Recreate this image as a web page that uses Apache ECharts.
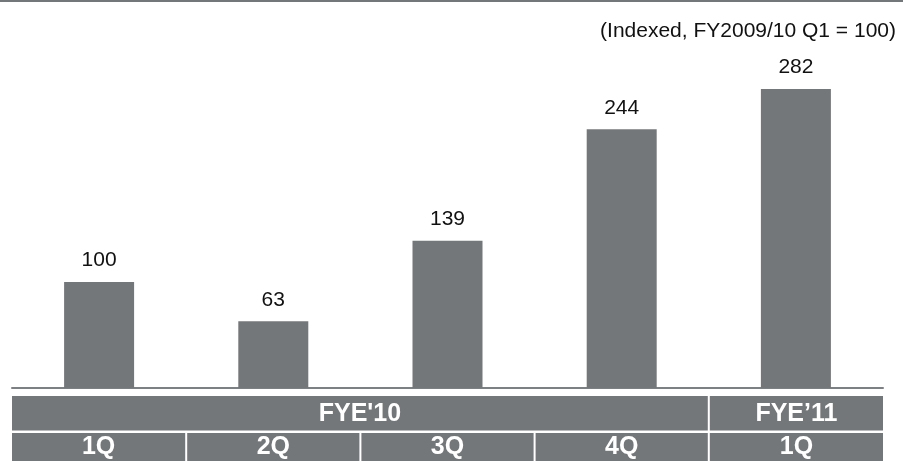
<!DOCTYPE html>
<html>
<head>
<meta charset="utf-8">
<script src="https://cdn.jsdelivr.net/npm/echarts@6/dist/echarts.min.js"></script>
<style>
  html, body { margin: 0; padding: 0; background: #ffffff; }
  #chart { width: 903px; height: 461px; }
</style>
</head>
<body>
<div id="chart"></div>
<script>
// Quarterly index values (FY2009/10 Q1 = 100)
const quarters = ['1Q', '2Q', '3Q', '4Q', '1Q'];
const indexValues = [100, 63, 139, 244, 282];
// Fiscal-year header row: label and how many quarters it spans
const fiscalYears = ["FYE'10", 'FYE\u201911'];
const fiscalSpans = [4, 1];
const subtitle = '(Indexed, FY2009/10 Q1 = 100)';

const GRAY = '#747779';
const FONT = '"Liberation Sans", Arial, Helvetica, sans-serif';

const chart = echarts.init(document.getElementById('chart'), null, { renderer: 'canvas' });

const option = {
  backgroundColor: '#ffffff',
  animation: false,
  title: {
    text: subtitle,
    right: 2,
    top: 16,
    textStyle: { fontFamily: FONT, fontSize: 21, fontWeight: 'normal', color: '#111' }
  },
  grid: { left: 12, right: 20, top: 70, bottom: 73, containLabel: false },
  xAxis: {
    type: 'category',
    data: quarters.map((q, i) => i),
    axisLine: { show: true, lineStyle: { color: '#7d8083', width: 2 } },
    axisTick: { show: false },
    axisLabel: { show: false },
    splitLine: { show: false }
  },
  yAxis: {
    type: 'value',
    min: 0,
    max: 300,
    show: false,
    splitLine: { show: false }
  },
  series: [{
    type: 'bar',
    data: indexValues,
    barWidth: 70,
    itemStyle: { color: GRAY },
    label: {
      show: true,
      position: 'top',
      distance: 11,
      fontFamily: FONT,
      fontSize: 21,
      color: '#111'
    }
  }]
};

chart.setOption(option);

// Header table under the axis, positioned from the category scale
function buildTable() {
  const c0 = chart.convertToPixel({ xAxisIndex: 0 }, 0);
  const c1 = chart.convertToPixel({ xAxisIndex: 0 }, 1);
  const bw = c1 - c0;
  const left = c0 - bw / 2;
  const row1Top = 396, row1H = 34.5;
  const row2Top = 433, row2H = 30;
  const els = [];

  // rule across the top of the page
  els.push({ type: 'rect', shape: { x: 0, y: 0, width: 903, height: 2 }, style: { fill: GRAY } });

  // fiscal-year row
  let start = 0;
  fiscalYears.forEach((fy, i) => {
    const x0 = left + start * bw + (start > 0 ? 1 : 0);
    const x1 = left + (start + fiscalSpans[i]) * bw - (start + fiscalSpans[i] < quarters.length ? 1 : 0);
    els.push({ type: 'rect', shape: { x: x0, y: row1Top, width: x1 - x0, height: row1H }, style: { fill: GRAY } });
    els.push({
      type: 'text', x: (x0 + x1) / 2, y: row1Top + row1H / 2 + 1,
      style: { text: fy, fill: '#ffffff', font: 'bold 25px ' + FONT, align: 'center', verticalAlign: 'middle' }
    });
    start += fiscalSpans[i];
  });

  // quarter row
  quarters.forEach((q, i) => {
    const x0 = left + i * bw + (i > 0 ? 1 : 0);
    const x1 = left + (i + 1) * bw - (i < quarters.length - 1 ? 1 : 0);
    els.push({ type: 'rect', shape: { x: x0, y: row2Top, width: x1 - x0, height: row2H }, style: { fill: GRAY } });
    els.push({
      type: 'text', x: (x0 + x1) / 2, y: row2Top + 14,
      style: { text: q, fill: '#ffffff', font: 'bold 25px ' + FONT, align: 'center', verticalAlign: 'middle' }
    });
  });

  chart.setOption({ graphic: { elements: els } });
}
buildTable();
</script>
</body>
</html>
